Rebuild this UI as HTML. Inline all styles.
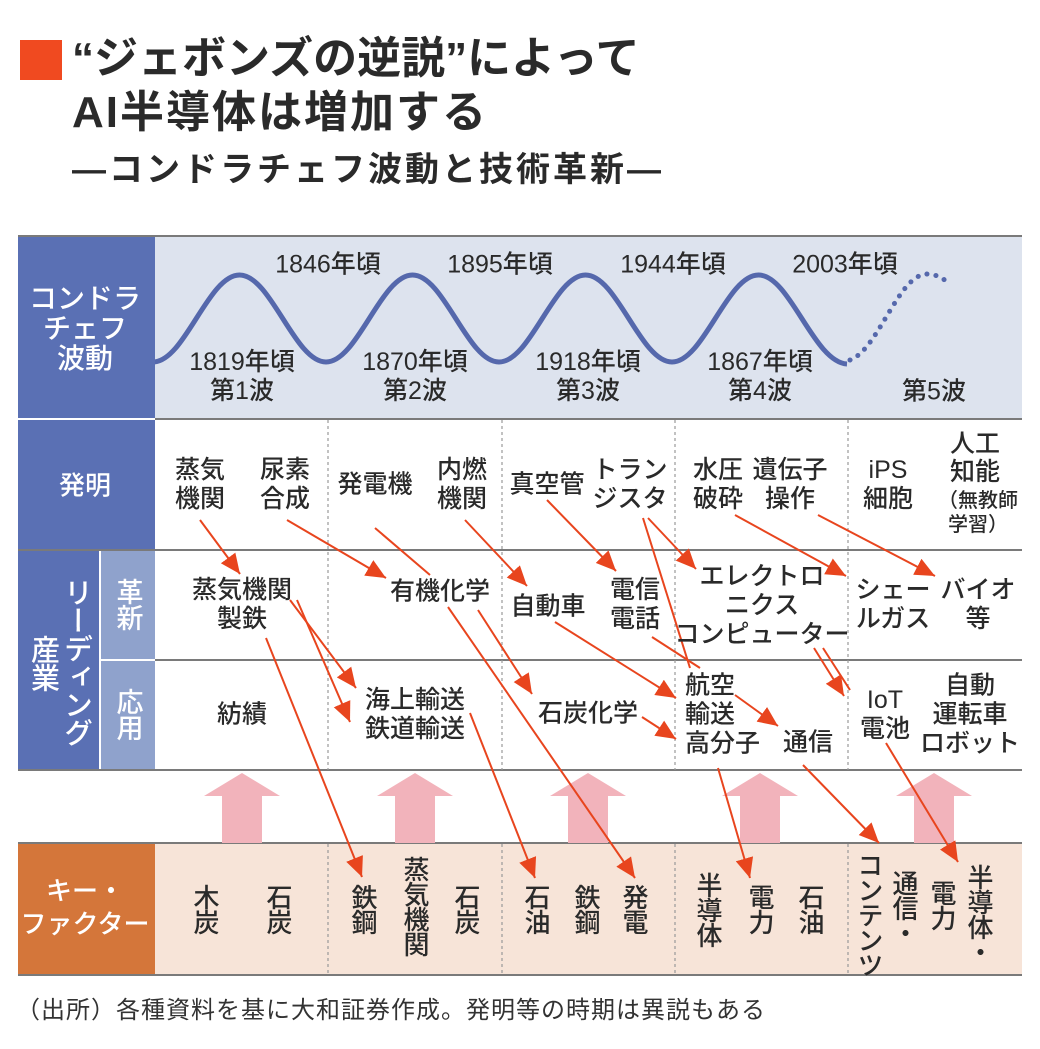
<!DOCTYPE html>
<html><head><meta charset="utf-8"><style>
body{margin:0;background:#fff;}
#w{position:relative;width:1040px;height:1049px;overflow:hidden;font-family:"Liberation Sans","Noto Sans CJK JP",sans-serif;color:#2a2a2a;}
.t{position:absolute;transform:translate(-50%,-50%);text-align:center;white-space:nowrap;font-size:25px;line-height:29px;font-weight:500;}
.v{position:absolute;transform:translateX(-50%);writing-mode:vertical-rl;font-size:26px;line-height:26px;font-weight:500;letter-spacing:-1px;}
.wh{color:#fff;}
</style></head><body><div id="w">
<svg width="1040" height="1049" style="position:absolute;left:0;top:0">
<defs><marker id="a" markerUnits="userSpaceOnUse" markerWidth="22" markerHeight="20" refX="20" refY="9" orient="auto"><path d="M0,0 L20,9 L0,18 Z" fill="#e8451e"/></marker></defs>
<rect x="20" y="40" width="42" height="40" fill="#f04a20"/>
<rect x="155" y="237" width="867" height="181" fill="#dde3ee"/>
<rect x="155" y="843" width="867" height="132" fill="#f7e4d8"/>
<rect x="18" y="237" width="137" height="533" fill="#5a70b4"/>
<rect x="100" y="551" width="55" height="219" fill="#8fa2cc"/>
<rect x="18" y="843" width="137" height="132" fill="#d4763a"/>
<line x1="18" y1="419" x2="155" y2="419" stroke="#fff" stroke-width="2"/>
<line x1="100" y1="551" x2="100" y2="770" stroke="#fff" stroke-width="2"/>
<line x1="100" y1="660" x2="155" y2="660" stroke="#fff" stroke-width="2"/>
<g stroke="#7a7a7a" stroke-width="2">
<line x1="18" y1="236" x2="1022" y2="236"/>
<line x1="155" y1="419" x2="1022" y2="419"/>
<line x1="18" y1="550" x2="1022" y2="550"/>
<line x1="155" y1="660" x2="1022" y2="660"/>
<line x1="18" y1="770" x2="1022" y2="770"/>
<line x1="18" y1="843" x2="1022" y2="843"/>
<line x1="18" y1="975" x2="1022" y2="975"/>
</g>
<g stroke="#999" stroke-width="1.2" stroke-dasharray="3,3">
<line x1="328" y1="420" x2="328" y2="770"/><line x1="502" y1="420" x2="502" y2="770"/><line x1="675" y1="420" x2="675" y2="770"/><line x1="848" y1="420" x2="848" y2="770"/>
<line x1="328" y1="844" x2="328" y2="975"/><line x1="502" y1="844" x2="502" y2="975"/><line x1="675" y1="844" x2="675" y2="975"/><line x1="848" y1="844" x2="848" y2="975"/>
</g>
<clipPath id="c"><rect x="155" y="237" width="867" height="181"/></clipPath>
<g clip-path="url(#c)" fill="none" stroke="#5568ac" stroke-width="5">
<path d="M153,362 C184.5,362 208,275 239.5,275 C271,275 294.5,362 326,362 C357.5,362 381,275 412.5,275 C444,275 467.5,362 499,362 C530.5,362 554,275 585.5,275 C617,275 640.5,362 672,362 C703.5,362 727,275 758.5,275 C790,275 813.5,362 847,364"/>
<path d="M850,360 C878,350 898,276 926,274 C936,274 942,278 946,281" stroke-dasharray="0.1,9" stroke-linecap="round"/>
</g>
<g fill="#f2b3bb">
<path d="M222,843 V796 H204 L242,773 L280,796 H262 V843 Z"/>
<path d="M395,843 V796 H377 L415,773 L453,796 H435 V843 Z"/>
<path d="M568,843 V796 H550 L588,773 L626,796 H608 V843 Z"/>
<path d="M740,843 V796 H722 L760,773 L798,796 H780 V843 Z"/>
<path d="M914,843 V796 H896 L934,773 L972,796 H954 V843 Z"/>
</g>
<g stroke="#e8451e" stroke-width="2" fill="none">
<line x1="200" y1="520" x2="240" y2="574" marker-end="url(#a)"/>
<line x1="287" y1="520" x2="386" y2="578" marker-end="url(#a)"/>
<line x1="375" y1="528" x2="430" y2="575"/>
<line x1="448" y1="607" x2="635" y2="878" marker-end="url(#a)"/>
<line x1="465" y1="520" x2="527" y2="586" marker-end="url(#a)"/>
<line x1="478" y1="610" x2="532" y2="694" marker-end="url(#a)"/>
<line x1="290" y1="600" x2="356" y2="688" marker-end="url(#a)"/>
<line x1="297" y1="600" x2="350" y2="722" marker-end="url(#a)"/>
<line x1="266" y1="638" x2="362" y2="877" marker-end="url(#a)"/>
<line x1="470" y1="713" x2="535" y2="878" marker-end="url(#a)"/>
<line x1="547" y1="500" x2="616" y2="571" marker-end="url(#a)"/>
<line x1="648" y1="518" x2="696" y2="569" marker-end="url(#a)"/>
<line x1="643" y1="518" x2="690" y2="668"/>
<line x1="652" y1="637" x2="700" y2="668"/>
<line x1="555" y1="622" x2="676" y2="698" marker-end="url(#a)"/>
<line x1="642" y1="717" x2="676" y2="739" marker-end="url(#a)"/>
<line x1="735" y1="695" x2="778" y2="726" marker-end="url(#a)"/>
<line x1="735" y1="515" x2="846" y2="576" marker-end="url(#a)"/>
<line x1="818" y1="515" x2="935" y2="576" marker-end="url(#a)"/>
<line x1="814" y1="648" x2="844" y2="696" marker-end="url(#a)"/>
<line x1="823" y1="648" x2="850" y2="690"/>
<line x1="718" y1="768" x2="750" y2="878" marker-end="url(#a)"/>
<line x1="803" y1="765" x2="879" y2="843" marker-end="url(#a)"/>
<line x1="886" y1="743" x2="958" y2="862" marker-end="url(#a)"/>
</g>
</svg>

<div style="position:absolute;left:72px;top:32px;font-size:44px;font-weight:700;line-height:54px;color:#2a2a2a;white-space:nowrap;letter-spacing:0px">“ジェボンズの逆説”によって<br><span style="letter-spacing:2px">AI半導体は増加する</span></div>
<div style="position:absolute;left:72px;top:148px;font-size:34px;font-weight:700;line-height:44px;color:#2a2a2a;white-space:nowrap;letter-spacing:3px">―コンドラチェフ波動と技術革新―</div>

<div class="t wh" style="left:85px;top:329px;font-size:28px;line-height:30px">コンドラ<br>チェフ<br>波動</div>
<div class="t wh" style="left:85px;top:486px;font-size:26px">発明</div>
<div class="v wh" style="left:75px;top:578px;font-size:29px;line-height:29px">リーディング</div>
<div class="v wh" style="left:42px;top:635px;font-size:29px;line-height:29px">産業</div>
<div class="v wh" style="left:127px;top:578px;font-size:27px;line-height:27px">革新</div>
<div class="v wh" style="left:127px;top:688px;font-size:27px;line-height:27px">応用</div>
<div class="t wh" style="left:85px;top:908px;font-size:26px;line-height:33px">キー・<br>ファクター</div>

<div class="t" style="left:328px;top:265px">1846年頃</div>
<div class="t" style="left:500px;top:265px">1895年頃</div>
<div class="t" style="left:673px;top:265px">1944年頃</div>
<div class="t" style="left:845px;top:265px">2003年頃</div>
<div class="t" style="left:242px;top:377px">1819年頃<br>第1波</div>
<div class="t" style="left:415px;top:377px">1870年頃<br>第2波</div>
<div class="t" style="left:588px;top:377px">1918年頃<br>第3波</div>
<div class="t" style="left:760px;top:377px">1867年頃<br>第4波</div>
<div class="t" style="left:934px;top:392px">第5波</div>

<div class="t" style="left:200px;top:485px">蒸気<br>機関</div>
<div class="t" style="left:285px;top:485px">尿素<br>合成</div>
<div class="t" style="left:375px;top:485px">発電機</div>
<div class="t" style="left:462px;top:485px">内燃<br>機関</div>
<div class="t" style="left:547px;top:485px">真空管</div>
<div class="t" style="left:630px;top:485px">トラン<br>ジスタ</div>
<div class="t" style="left:718px;top:485px">水圧<br>破砕</div>
<div class="t" style="left:790px;top:485px">遺伝子<br>操作</div>
<div class="t" style="left:888px;top:485px">iPS<br>細胞</div>
<div class="t" style="left:975px;top:458px;line-height:28px">人工<br>知能</div>
<div class="t" style="left:978px;top:513px;font-size:20px;line-height:24px">（無教師<br>学習）</div>

<div class="t" style="left:242px;top:605px">蒸気機関<br>製鉄</div>
<div class="t" style="left:440px;top:592px">有機化学</div>
<div class="t" style="left:548px;top:607px">自動車</div>
<div class="t" style="left:635px;top:605px">電信<br>電話</div>
<div class="t" style="left:762px;top:606px">エレクトロ<br>ニクス<br>コンピューター</div>
<div class="t" style="left:893px;top:605px">シェー<br>ルガス</div>
<div class="t" style="left:978px;top:605px">バイオ<br>等</div>

<div class="t" style="left:242px;top:715px">紡績</div>
<div class="t" style="left:415px;top:715px">海上輸送<br>鉄道輸送</div>
<div class="t" style="left:588px;top:714px">石炭化学</div>
<div class="t" style="left:685px;top:715px;transform:translate(0,-50%);text-align:left">航空<br>輸送<br>高分子</div>
<div class="t" style="left:808px;top:743px">通信</div>
<div class="t" style="left:885px;top:715px">IoT<br>電池</div>
<div class="t" style="left:970px;top:715px">自動<br>運転車<br>ロボット</div>

<div class="v" style="left:205px;top:884px">木炭</div>
<div class="v" style="left:278px;top:884px">石炭</div>
<div class="v" style="left:363px;top:884px">鉄鋼</div>
<div class="v" style="left:415px;top:856px">蒸気機関</div>
<div class="v" style="left:466px;top:884px">石炭</div>
<div class="v" style="left:536px;top:884px">石油</div>
<div class="v" style="left:586px;top:884px">鉄鋼</div>
<div class="v" style="left:634px;top:884px">発電</div>
<div class="v" style="left:708px;top:872px">半導体</div>
<div class="v" style="left:760px;top:884px">電力</div>
<div class="v" style="left:810px;top:884px">石油</div>
<div class="v" style="left:869px;top:852px">コンテンツ</div>
<div class="v" style="left:904px;top:870px">通信・</div>
<div class="v" style="left:942px;top:880px">電力</div>
<div class="v" style="left:979px;top:864px">半導体・</div>

<div style="position:absolute;left:16px;top:996px;font-size:24px;line-height:30px;color:#333;white-space:nowrap;letter-spacing:1px">（出所）各種資料を基に大和証券作成。発明等の時期は異説もある</div>
</div></body></html>
